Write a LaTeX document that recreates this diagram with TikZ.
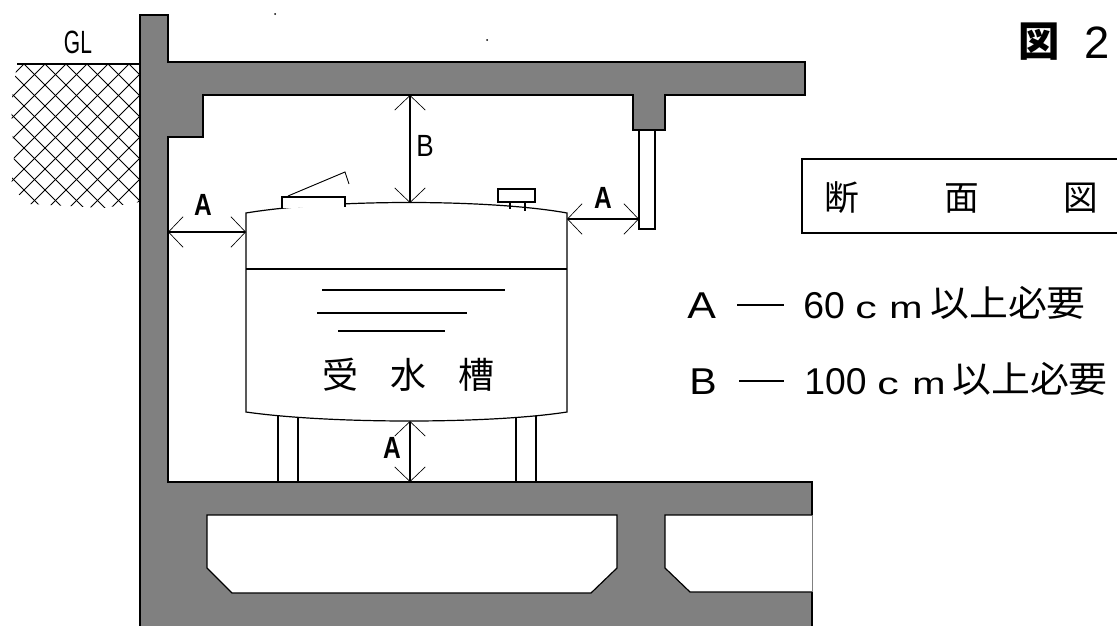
\documentclass[tikz,border=0pt]{standalone}
\usepackage{fontspec}
\setmainfont{Noto Sans CJK JP}
\newfontfamily\latinf{Liberation Sans}
\usetikzlibrary{arrows.meta}
\tikzset{
  x=0.75pt,y=-0.75pt,
  outline/.style={draw=black,line width=0.9pt},
  concrete/.style={outline,fill=black!50},
  void/.style={outline,fill=white},
  thinl/.style={draw=black,line width=0.9pt},
  dimline/.style={draw=black,line width=0.9pt,{Straight Barb[length=11pt,width=23pt,line width=0.5pt]}-{Straight Barb[length=11pt,width=23pt,line width=0.5pt]}},
  lbl/.style={inner sep=0pt,font=\fontsize{23}{23}\selectfont\latinf\bfseries},
  jp/.style={inner sep=0pt,font=\fontsize{27}{27}\selectfont},
  boxjp/.style={inner sep=0pt,font=\fontsize{26}{26}\selectfont},
  sidejp/.style={inner sep=0pt,anchor=base west,font=\fontsize{27}{27}\selectfont},
  sidelat/.style={inner sep=0pt,anchor=base west,font=\fontsize{28}{28}\selectfont\latinf},
  sidesmall/.style={inner sep=0pt,anchor=base west,font=\fontsize{23}{23}\selectfont\latinf},
}
\begin{document}
\begin{tikzpicture}
\useasboundingbox (0,0) rectangle (1117,625);
\clip (0,0) rectangle (1117,625);
% soil hatch
\begin{scope}
\clip (17,64) -- (140,64) -- (140,202) -- (104,208) -- (30,204) -- (11,188) -- (14,160) -- (11,105) -- cycle;
\foreach \i in {-8,...,14}{
  \draw[black,line width=0.6pt] ({\i*21+3},64) -- ++(160,160);
  \draw[black,line width=0.6pt] ({\i*21+3},64) -- ++(-160,160);
}
\end{scope}
\draw[thinl] (17,64) -- (140,64);
% concrete
\draw[concrete] (140,15) -- (168,15) -- (168,62) -- (805,62) -- (805,95) -- (665,95) -- (665,130) -- (633,130) -- (633,95) -- (203,95) -- (203,137) -- (168,137) -- (168,482) -- (812,482) -- (812,630) -- (140,630) -- cycle;
\draw[void] (207,515) -- (617,515) -- (617,568) -- (591,593) -- (232,593) -- (207,568) -- cycle;
\draw[void] (812,515) -- (665,515) -- (665,568) -- (690,592) -- (812,592);
\draw[draw=black!50,line width=0.6pt] (812,515) -- (812,592);
% post
\draw[thinl,fill=white] (639,130) rectangle (655,229);
% tank legs
\draw[thinl] (278,412) -- (278,482) (298,414) -- (298,482) (516,414) -- (516,482) (536,412) -- (536,482);
% tank
\draw[thinl,fill=white] (246,213) .. controls (330,199) and (490,199) .. (567,213) -- (567,412) .. controls (490,424) and (330,424) .. (246,412) -- cycle;
\draw[thinl] (246,269) -- (567,269);
% hatch cover
\draw[thinl,fill=white] (282,208) -- (282,197) -- (345,197) -- (345,207);
\draw[thinl,line width=0.7pt] (288,196) -- (345,172) -- (349,184);
% valve
\draw[thinl,fill=white] (498,189) rectangle (535,202);
\draw[thinl] (510,202) -- (510,209) (525,202) -- (525,211);
% water lines
\draw[thinl] (322,290) -- (505,290) (317,313) -- (467,313) (338,331) -- (445,331);
% dimension anchors
\coordinate (wallL) at (168,232);
\coordinate (tankL) at (246,232);
\coordinate (tankR) at (567,219);
\coordinate (postL) at (639,219);
\coordinate (ceil) at (410,95);
\coordinate (apex) at (410,203);
\coordinate (tankB) at (410,421);
\coordinate (floorT) at (410,482);
\draw[dimline] (wallL) -- (tankL);
\draw[dimline] (tankR) -- (postL);
\draw[dimline] (ceil) -- (apex);
\draw[dimline] (tankB) -- (floorT);
% box
\draw[thinl] (1120,159) -- (802,159) -- (802,233) -- (1120,233);
% labels
\node[inner sep=0pt,font=\fontsize{21}{21}\selectfont\latinf] (gl) at (78,42) {\scalebox{0.75}[1.15]{GL}};
\node[lbl] (la1) at (203,205) {\scalebox{0.8}[1]{A}};
\node[lbl] (la2) at (603,198) {\scalebox{0.8}[1]{A}};
\node[lbl,font=\fontsize{23}{23}\selectfont\latinf] (lb) at (425,146) {\scalebox{0.85}[1]{B}};
\node[lbl] (la3) at (392,448) {\scalebox{0.8}[1]{A}};
\node[jp] (k1) at (340,375) {受};
\node[jp] (k2) at (408,375) {水};
\node[jp] (k3) at (476,375) {槽};
\node[inner sep=0pt,font=\fontsize{31}{31}\selectfont\bfseries] (t1) at (1039,42) {図};
\node[inner sep=0pt,font=\fontsize{34}{34}\selectfont\latinf] (t2) at (1097,43) {2};
\node[boxjp] (s1) at (842,198) {断};
\node[boxjp] (s2) at (962,198) {面};
\node[boxjp] (s3) at (1081,198) {図};
% side notes, first row
\node[sidelat] (a1) at (687,318) {\scalebox{1.15}[1]{A}};
\coordinate (d1a) at (737,305);
\coordinate (d1b) at (784,305);
\draw[thinl] (d1a) -- (d1b);
\node[sidelat] (n1) at (803,318) {60};
\node[sidesmall] (c1) at (855,318) {\scalebox{1.4}[1]{c}};
\node[sidesmall] (m1) at (889,318) {\scalebox{1.3}[1]{m}};
\node[sidejp] (j1) at (930,316) {\scalebox{1.08}[1]{以上必要}};
% side notes, second row
\node[sidelat] (a2) at (689,394) {\scalebox{1.1}[1]{B}};
\coordinate (d2a) at (739,381);
\coordinate (d2b) at (784,381);
\draw[thinl] (d2a) -- (d2b);
\node[sidelat] (n2) at (804,394) {100};
\node[sidesmall] (c2) at (877,394) {\scalebox{1.4}[1]{c}};
\node[sidesmall] (m2) at (912,394) {\scalebox{1.3}[1]{m}};
\node[sidejp] (j2) at (952,392) {\scalebox{1.08}[1]{以上必要}};
% specks
\fill[black] (275,14) circle[radius=1];
\fill[black] (487,40) circle[radius=1];
\end{tikzpicture}
\end{document}
